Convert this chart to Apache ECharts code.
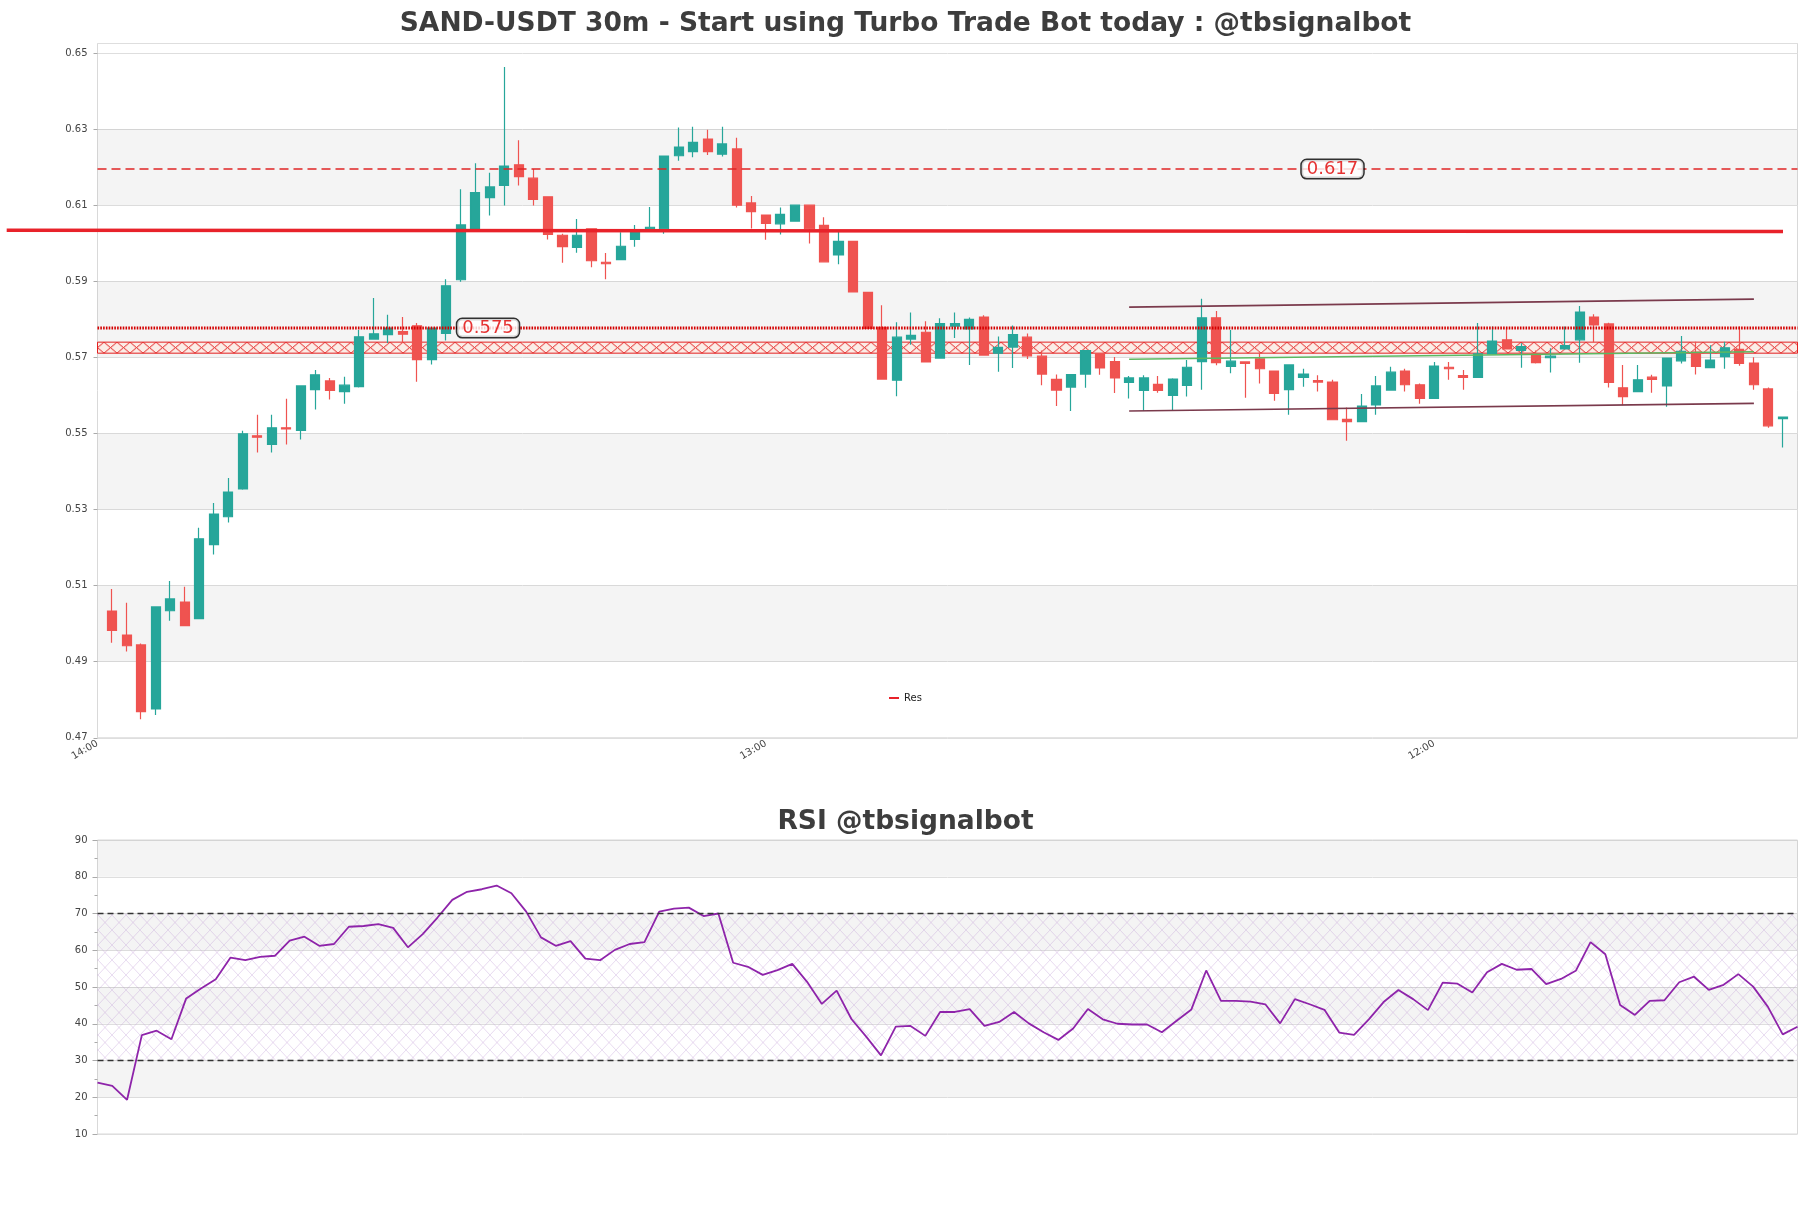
<!DOCTYPE html>
<html>
<head>
<meta charset="utf-8">
<script src="https://cdn.jsdelivr.net/npm/echarts@6/dist/echarts.min.js"></script>
<style>
html,body{margin:0;padding:0;background:#fff;}
#c{width:1811px;height:1208px;}
</style>
</head>
<body>
<div id="c"></div>
<script>
// ---------------- DATA ----------------
const mainTitle = 'SAND-USDT 30m - Start using Turbo Trade Bot today : @tbsignalbot';
const rsiTitle = 'RSI @tbsignalbot';
const tickPositions = [0, 46, 92];
const tickLabels = ['14:00', '13:00', '12:00'];

const opens = [0.5033,0.4970,0.4944,0.4776,0.5034,0.5057,0.5013,0.5208,0.5281,0.5354,
0.5494,0.5471,0.5515,0.5508,0.5615,0.5638,0.5610,0.5623,0.5748,0.5760,
0.5768,0.5783,0.5694,0.5763,0.5904,0.6037,0.6120,0.6152,0.6206,0.6171,
0.6122,0.6021,0.5989,0.6038,0.5950,0.5957,0.6010,0.6038,0.6038,0.6230,
0.6241,0.6274,0.6234,0.6248,0.6106,0.6074,0.6051,0.6058,0.6100,0.6047,
0.5969,0.6005,0.5871,0.5779,0.5640,0.5748,0.5766,0.5698,0.5782,0.5775,
0.5806,0.5711,0.5727,0.5753,0.5703,0.5642,0.5622,0.5656,0.5709,0.5689,
0.5634,0.5613,0.5629,0.5600,0.5626,0.5689,0.5804,0.5676,0.5688,0.5696,
0.5664,0.5615,0.5647,0.5639,0.5635,0.5537,0.5531,0.5575,0.5614,0.5664,
0.5628,0.5592,0.5674,0.5652,0.5647,0.5709,0.5746,0.5718,0.5709,0.5699,
0.5722,0.5746,0.5806,0.5788,0.5620,0.5610,0.5648,0.5625,0.5691,0.5714,
0.5673,0.5702,0.5721,0.5685,0.5617,0.5539];
const closes = [0.4982,0.4942,0.4769,0.5044,0.5065,0.4995,0.5223,0.5288,0.5346,0.5499,
0.5490,0.5515,0.5512,0.5625,0.5654,0.5613,0.5627,0.5754,0.5762,0.5777,
0.5761,0.5694,0.5777,0.5888,0.6048,0.6133,0.6148,0.6203,0.6175,0.6115,
0.6023,0.5991,0.6021,0.5954,0.5946,0.5992,0.6036,0.6042,0.6229,0.6253,
0.6265,0.6241,0.6261,0.6100,0.6083,0.6052,0.6076,0.6100,0.6038,0.5951,
0.6005,0.5872,0.5776,0.5643,0.5753,0.5758,0.5688,0.5789,0.5789,0.5800,
0.5706,0.5726,0.5760,0.5704,0.5656,0.5614,0.5655,0.5718,0.5672,0.5646,
0.5646,0.5646,0.5613,0.5643,0.5674,0.5804,0.5686,0.5690,0.5684,0.5670,
0.5605,0.5680,0.5656,0.5635,0.5536,0.5531,0.5572,0.5625,0.5661,0.5628,
0.5592,0.5677,0.5670,0.5647,0.5709,0.5743,0.5722,0.5728,0.5686,0.5703,
0.5731,0.5819,0.5785,0.5634,0.5597,0.5641,0.5642,0.5698,0.5716,0.5676,
0.5693,0.5725,0.5684,0.5628,0.5520,0.5543];
const lows = [0.4950,0.4927,0.4749,0.4760,0.5008,0.4995,0.5013,0.5182,0.5266,0.5352,
0.5450,0.5450,0.5471,0.5484,0.5563,0.5589,0.5578,0.5621,0.5748,0.5738,
0.5738,0.5636,0.5681,0.5744,0.5899,0.6037,0.6073,0.6099,0.6152,0.6099,
0.6010,0.5949,0.5975,0.5937,0.5905,0.5957,0.5991,0.6038,0.6025,0.6217,
0.6226,0.6232,0.6228,0.6094,0.6039,0.6009,0.6023,0.6058,0.5999,0.5951,
0.5945,0.5872,0.5776,0.5643,0.5598,0.5733,0.5688,0.5698,0.5751,0.5680,
0.5706,0.5662,0.5672,0.5696,0.5627,0.5572,0.5559,0.5620,0.5654,0.5606,
0.5592,0.5559,0.5607,0.5559,0.5597,0.5615,0.5679,0.5658,0.5594,0.5631,
0.5586,0.5549,0.5623,0.5610,0.5536,0.5481,0.5531,0.5549,0.5612,0.5610,
0.5578,0.5592,0.5641,0.5615,0.5647,0.5709,0.5722,0.5673,0.5684,0.5660,
0.5722,0.5686,0.5740,0.5621,0.5574,0.5610,0.5607,0.5570,0.5684,0.5655,
0.5673,0.5670,0.5678,0.5615,0.5515,0.5463];
const highs = [0.5091,0.5055,0.4948,0.5044,0.5112,0.5097,0.5252,0.5317,0.5383,0.5507,
0.5549,0.5549,0.5591,0.5625,0.5667,0.5646,0.5649,0.5772,0.5856,0.5812,
0.5806,0.5790,0.5777,0.5905,0.6142,0.6210,0.6185,0.6463,0.6271,0.6195,
0.6122,0.6025,0.6064,0.6038,0.5974,0.6029,0.6048,0.6095,0.6229,0.6304,
0.6306,0.6298,0.6306,0.6277,0.6124,0.6074,0.6094,0.6100,0.6102,0.6068,
0.6031,0.6005,0.5871,0.5837,0.5792,0.5818,0.5795,0.5803,0.5818,0.5805,
0.5811,0.5755,0.5784,0.5763,0.5718,0.5655,0.5655,0.5718,0.5709,0.5701,
0.5651,0.5653,0.5651,0.5645,0.5693,0.5854,0.5822,0.5772,0.5690,0.5713,
0.5664,0.5680,0.5670,0.5653,0.5641,0.5568,0.5604,0.5651,0.5675,0.5670,
0.5631,0.5688,0.5688,0.5667,0.5790,0.5781,0.5775,0.5737,0.5718,0.5724,
0.5781,0.5835,0.5813,0.5791,0.5680,0.5680,0.5654,0.5698,0.5756,0.5741,
0.5732,0.5741,0.5781,0.5700,0.5621,0.5543];

const rsi = [24.0,23.1,19.3,36.9,38.1,35.8,46.9,49.6,52.1,58.0,
57.3,58.2,58.5,62.6,63.7,61.2,61.7,66.4,66.6,67.1,
66.1,60.8,64.4,68.9,73.7,75.9,76.6,77.6,75.5,70.5,
63.5,61.2,62.5,57.7,57.3,60.1,61.7,62.2,70.5,71.3,
71.6,69.3,70.0,56.6,55.5,53.3,54.6,56.3,51.4,45.4,
49.0,41.3,36.5,31.4,39.2,39.4,36.7,43.2,43.2,44.0,
39.4,40.5,43.2,40.1,37.7,35.6,38.7,44.0,41.2,40.0,
39.8,39.8,37.7,40.8,43.9,54.5,46.2,46.2,46.0,45.3,
40.1,46.7,45.3,43.8,37.6,37.0,41.2,45.9,49.2,46.7,
43.7,51.2,50.9,48.5,54.0,56.3,54.7,54.9,50.8,52.2,
54.4,62.2,58.9,45.1,42.4,46.2,46.4,51.3,52.8,49.2,
50.6,53.5,50.1,44.6,37.1,39.2];

// levels and annotations (price units / bar index units)
const resDashLevel = 0.6195;
const resDotLevel = 0.5777;
const zoneLow = 0.5711, zoneHigh = 0.5740;
const resLine = [[-6.25, 0.6034], [116, 0.6031]];
const channelUpper = [[71, 0.5832], [114, 0.5853]];
const channelLower = [[71, 0.5559], [114, 0.5579]];
const greenLine = [[71, 0.5695], [114, 0.5715]];
const labelTexts = ['0.575', '0.617'];
const labelAnchors = [[24.76, resDotLevel], [82.88, resDashLevel]];
const mainBands = [[0.49, 0.51], [0.53, 0.55], [0.57, 0.59], [0.61, 0.63]];
const rsiBands = [[20, 30], [40, 50], [60, 70], [80, 90]];
const rsiLevels = [70, 30];
const rsiZone = [30, 70];

// ---------------- CHART ----------------
const FONT = 'DejaVu Sans';
const X_MIN = 0, X_MAX = 117;
const GRID_LEFT = 97.5, GRID_W = 1700;
// wider hidden grid (same scale) so the Res line can run into the left margin
const EXT_X_MIN = X_MIN - GRID_LEFT / (GRID_W / (X_MAX - X_MIN));

function xPattern(w, h, stroke, lw, bg) {
  const c = document.createElement('canvas');
  c.width = w; c.height = h;
  const ctx = c.getContext('2d');
  if (bg) { ctx.fillStyle = bg; ctx.fillRect(0, 0, w, h); }
  ctx.strokeStyle = stroke; ctx.lineWidth = lw;
  ctx.beginPath();
  ctx.moveTo(0, 0); ctx.lineTo(w, h);
  ctx.moveTo(w, 0); ctx.lineTo(0, h);
  ctx.stroke();
  return c;
}

const candleData = opens.map((o, i) => [i + 1, o, closes[i], lows[i], highs[i]]);
const rsiData = rsi.map((v, i) => [i, v]);

const chart = echarts.init(document.getElementById('c'), null, {renderer: 'canvas'});

function build(zoneTop, zoneH) {
  const h = Math.max(4, Math.round(zoneH));
  const zonePat = {image: xPattern(13, h, '#e32020', 1, 'rgba(255,232,222,0.6)'), repeat: 'repeat', x: 0, y: zoneTop};
  const rsiPat = {image: xPattern(14, 15, 'rgba(195,160,215,0.55)', 0.7, null), repeat: 'repeat'};
  const gray = 'rgba(0,0,0,0.045)';
  const titleStyle = {fontFamily: FONT, fontWeight: 'bold', fontSize: 26.5, color: '#3d3d3d'};
  return {
    animation: false,
    backgroundColor: '#fff',
    title: [
      {text: mainTitle, left: 'center', top: 6, textStyle: titleStyle},
      {text: rsiTitle, left: 'center', top: 804, textStyle: titleStyle}
    ],
    legend: {data: ['Res'], left: 884, top: 688, icon: 'rect', itemWidth: 10, itemHeight: 2, itemGap: 5,
      textStyle: {fontFamily: FONT, fontSize: 10, color: '#222'}},
    grid: [
      {left: GRID_LEFT, top: 43.5, width: GRID_W, height: 694.3, show: true, borderColor: '#d9d9d9', borderWidth: 1, backgroundColor: 'transparent'},
      {left: GRID_LEFT, top: 840, width: GRID_W, height: 294, show: true, borderColor: '#d9d9d9', borderWidth: 1, backgroundColor: 'transparent'},
      {left: 0, top: 43.5, width: GRID_LEFT + GRID_W, height: 694.3, show: false}
    ],
    xAxis: [
      {type: 'value', gridIndex: 0, min: X_MIN, max: X_MAX, interval: 46,
       axisLine: {show: false}, axisTick: {show: false}, splitLine: {show: false},
       axisLabel: {rotate: 30, margin: 5, fontFamily: FONT, fontSize: 10, color: '#444',
         showMaxLabel: false,
         formatter: v => { const k = tickPositions.indexOf(Math.round(v)); return (k >= 0 && Math.abs(v - tickPositions[k]) < 1e-6) ? tickLabels[k] : ''; }}},
      {type: 'value', gridIndex: 1, min: 0, max: 115,
       axisLine: {show: false}, axisTick: {show: false}, splitLine: {show: false}, axisLabel: {show: false}},
      {type: 'value', gridIndex: 2, min: EXT_X_MIN, max: X_MAX, show: false}
    ],
    yAxis: [
      {type: 'value', gridIndex: 0, min: 0.47, max: 0.6525, interval: 0.02,
       axisLine: {show: false}, axisTick: {show: true, length: 4, lineStyle: {color: '#aaa'}},
       splitLine: {show: true, lineStyle: {color: '#dedede', width: 1}},
       axisLabel: {margin: 10, fontFamily: FONT, fontSize: 10, color: '#444', showMaxLabel: false,
         formatter: v => v > 0.651 ? '' : v.toFixed(2)}},
      {type: 'value', gridIndex: 1, min: 10, max: 90, interval: 10,
       axisLine: {show: false}, axisTick: {show: true, length: 5, lineStyle: {color: '#aaa'}},
       minorTick: {show: true, splitNumber: 2, length: 3, lineStyle: {color: '#aaa'}},
       splitLine: {show: true, lineStyle: {color: '#dedede', width: 1}},
       axisLabel: {margin: 10, fontFamily: FONT, fontSize: 10, color: '#444'}},
      {type: 'value', gridIndex: 2, min: 0.47, max: 0.6525, show: false}
    ],
    series: [
      {type: 'line', name: 'lvlDash', xAxisIndex: 0, yAxisIndex: 0, silent: true, symbol: 'none',
       data: [[X_MIN, resDashLevel], [X_MAX, resDashLevel]],
       lineStyle: {color: '#e02424', width: 1.5, type: [9, 5]},
       markArea: {silent: true, z: 1,
         data: mainBands.map(b => [{yAxis: b[0], itemStyle: {color: gray}}, {yAxis: b[1]}])
           .concat([[{yAxis: zoneLow, itemStyle: {color: zonePat, borderColor: '#e32020', borderWidth: 1}}, {yAxis: zoneHigh}]])}},
      {type: 'line', name: 'lvlDot', xAxisIndex: 0, yAxisIndex: 0, silent: true, symbol: 'none',
       data: [[X_MIN, resDotLevel], [X_MAX, resDotLevel]],
       lineStyle: {color: '#d40000', width: 3, type: [1.6, 1.2]}},
      {type: 'line', name: 'chU', xAxisIndex: 0, yAxisIndex: 0, silent: true, symbol: 'none',
       data: channelUpper, lineStyle: {color: '#7a3a4c', width: 1.6}},
      {type: 'line', name: 'chL', xAxisIndex: 0, yAxisIndex: 0, silent: true, symbol: 'none',
       data: channelLower, lineStyle: {color: '#7a3a4c', width: 1.6}},
      {type: 'line', name: 'chG', xAxisIndex: 0, yAxisIndex: 0, silent: true, symbol: 'none',
       data: greenLine, lineStyle: {color: '#5cb860', width: 1.5}},
      {type: 'candlestick', name: 'price', xAxisIndex: 0, yAxisIndex: 0, silent: true,
       encode: {x: 0, y: [1, 2, 3, 4]},
       barWidth: 9.6,
       itemStyle: {color: '#26a69a', color0: '#ef5350', borderColor: '#26a69a', borderColor0: '#ef5350', borderWidth: 1.2},
       data: candleData},
      {type: 'line', name: 'Res', xAxisIndex: 2, yAxisIndex: 2, silent: true, symbol: 'none', z: 5,
       data: resLine, itemStyle: {color: '#e8222a'}, lineStyle: {color: '#e8222a', width: 3.4}},
      {type: 'scatter', name: 'lbl', xAxisIndex: 0, yAxisIndex: 0, silent: true, symbolSize: 0, z: 6,
       data: labelAnchors.map((p, i) => ({value: p, label: {formatter: labelTexts[i]}})),
       label: {show: true, position: 'right', distance: 0, fontFamily: 'DejaVu Sans', fontSize: 18, color: '#e00000',
         backgroundColor: '#fff', borderColor: '#000', borderWidth: 1.5, borderRadius: 5, padding: [1, 5, 0, 5], lineHeight: 17}},
      {type: 'line', name: 'RSI', xAxisIndex: 1, yAxisIndex: 1, silent: true, symbol: 'none',
       data: rsiData, lineStyle: {color: '#8e24aa', width: 1.8},
       markArea: {silent: true, z: 1,
         data: rsiBands.map(b => [{yAxis: b[0], itemStyle: {color: gray}}, {yAxis: b[1]}])
           .concat([[{yAxis: rsiZone[0], itemStyle: {color: rsiPat}}, {yAxis: rsiZone[1]}]])},
       markLine: {silent: true, symbol: 'none', label: {show: false},
         lineStyle: {color: '#333', width: 1.3, type: [6, 4]},
         data: rsiLevels.map(v => ({yAxis: v}))}}
    ]
  };
}

chart.setOption(build(0, 11));
const pTop = chart.convertToPixel({gridIndex: 0}, [0, zoneHigh]);
const pBot = chart.convertToPixel({gridIndex: 0}, [0, zoneLow]);
chart.setOption(build(pTop[1], pBot[1] - pTop[1]), true);
</script>
</body>
</html>
